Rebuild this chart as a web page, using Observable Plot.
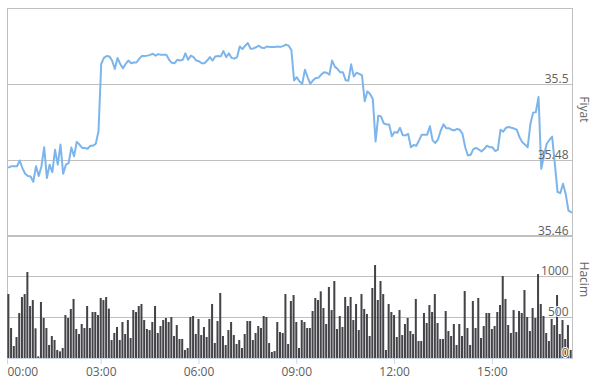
<!DOCTYPE html>
<html><head><meta charset="utf-8">
<script src="https://cdn.jsdelivr.net/npm/d3@7"></script>
<script src="https://cdn.jsdelivr.net/npm/@observablehq/plot@0.6"></script>
<style>
body{margin:0;background:#fff;}
#chart{position:relative;width:592px;height:378px;}
#chart svg{position:absolute;left:0;top:0;}
</style></head><body><div id="chart"></div>
<script>
// time of first point (minutes after 00:00) and step between points
const startMinute = 10;
const stepMinutes = 5;

const price = [
35.4782,35.4785,35.4785,35.4785,35.4800,35.4780,35.4765,35.4759,35.4758,35.4744,
35.4785,35.4759,35.4785,35.4835,35.4754,35.4789,35.4769,35.4828,35.4789,35.4842,
35.4765,35.4789,35.4793,35.4834,35.4811,35.4849,35.4842,35.4833,35.4833,35.4831,
35.4839,35.4839,35.4844,35.4877,35.5054,35.5070,35.5075,35.5074,35.5063,35.5041,
35.5070,35.5054,35.5043,35.5054,35.5063,35.5056,35.5058,35.5058,35.5068,35.5075,
35.5075,35.5076,35.5078,35.5081,35.5076,35.5080,35.5078,35.5078,35.5078,35.5065,
35.5057,35.5056,35.5065,35.5063,35.5065,35.5082,35.5065,35.5076,35.5072,35.5063,
35.5061,35.5056,35.5056,35.5063,35.5072,35.5063,35.5074,35.5075,35.5074,35.5088,
35.5072,35.5082,35.5070,35.5068,35.5072,35.5100,35.5093,35.5102,35.5109,35.5094,
35.5095,35.5098,35.5102,35.5097,35.5096,35.5100,35.5099,35.5099,35.5099,35.5100,
35.5099,35.5101,35.5105,35.5102,35.5091,35.5011,35.5019,35.5008,35.5002,35.5039,
35.5019,35.5002,35.5011,35.5017,35.5018,35.5026,35.5032,35.5031,35.5026,35.5063,
35.5047,35.5041,35.5032,35.5032,35.5011,35.5010,35.5053,35.5021,35.5031,35.5028,
35.5024,35.4956,35.4982,35.4975,35.4961,35.4850,35.4918,35.4916,35.4898,35.4895,
35.4895,35.4864,35.4875,35.4873,35.4886,35.4867,35.4866,35.4870,35.4835,35.4841,
35.4839,35.4853,35.4868,35.4868,35.4868,35.4890,35.4853,35.4846,35.4856,35.4879,
35.4895,35.4885,35.4885,35.4881,35.4879,35.4883,35.4881,35.4870,35.4835,35.4813,
35.4815,35.4830,35.4833,35.4829,35.4824,35.4830,35.4839,35.4835,35.4835,35.4825,
35.4828,35.4881,35.4876,35.4886,35.4888,35.4886,35.4884,35.4881,35.4861,35.4848,
35.4842,35.4835,35.4896,35.4926,35.4927,35.4967,35.4778,35.4813,35.4844,35.4854,
35.4863,35.4791,35.4717,35.4714,35.4739,35.4712,35.4668,35.4664
];

const volume = [
780,366,146,256,549,744,780,1049,634,707,
362,20,683,488,366,159,268,220,98,81,
122,524,488,598,720,354,293,415,366,634,
366,561,561,524,732,707,744,602,220,305,
378,220,439,293,463,244,585,561,634,659,
463,354,341,439,634,305,390,463,488,439,
500,268,402,232,232,98,122,500,512,293,
476,280,378,256,476,659,183,451,793,268,
159,341,439,280,171,220,122,293,451,451,
220,305,390,366,512,500,183,73,85,439,
317,305,780,171,695,768,439,122,463,439,
366,366,573,732,707,813,610,415,866,585,
939,354,512,378,744,634,744,463,659,341,
780,598,537,268,854,1134,707,939,780,98,
659,561,524,256,585,280,415,488,329,293,
720,207,207,549,427,646,561,780,427,232,
232,573,329,268,415,159,415,268,817,366,
159,695,366,732,244,390,549,549,354,390,
561,646,1000,720,402,305,585,317,573,549,
829,500,329,610,488,1024,659,512,305,207,
476,402,768,293,463,232,402,98
];

const priceTicks = [35.46, 35.48, 35.50, 35.52];
const priceTickLabels = ["35.46", "35.48", "35.5", ""];
const volumeTicks = [0, 500, 1000, 1500];
const volumeTickLabels = ["0", "500", "1000", ""];
const timeTickMinutes = [0, 180, 360, 540, 720, 900];
const timeTickLabels = ["00:00", "03:00", "06:00", "09:00", "12:00", "15:00"];

const data = price.map((p, i) => ({t: startMinute + i * stepMinutes, p, v: volume[i]}));
const xDomain = [startMinute - stepMinutes / 2, startMinute + (price.length - 1) * stepMinutes + stepMinutes / 2];
const timeTicks = timeTickMinutes.map((m, i) => ({x: Math.max(m, xDomain[0]), label: timeTickLabels[i]}));
const priceLabelRows = priceTicks.map((y, i) => ({y, label: priceTickLabels[i]})).filter(d => d.label);
const volumeLabelRows = volumeTicks.map((y, i) => ({y, label: volumeTickLabels[i]})).filter(d => d.label);

const grid = "#c0c0c0";
const labelColor = "#606060";
const common = {
  width: 592, height: 378, marginLeft: 7, marginRight: 20,
  style: {background: "transparent", fontFamily: "Open Sans", fontSize: "12px"}
};

const pricePlot = Plot.plot({
  ...common, marginTop: 8, marginBottom: 142,
  x: {domain: xDomain, axis: null},
  y: {domain: [35.46, 35.52], axis: null},
  marks: [
    Plot.ruleY(priceTicks, {stroke: grid}),
    Plot.frame({stroke: grid}),
    Plot.lineY(data, {x: "t", y: "p", stroke: "#7cb5ec", strokeWidth: 2}),
    Plot.text(priceLabelRows, {x: xDomain[1], y: "y", text: "label", textAnchor: "end", lineAnchor: "bottom", dx: -4, dy: -2, fill: labelColor}),
    Plot.text(["Fiyat"], {frameAnchor: "right", dx: 11, rotate: 90, fill: "#666"})
  ]
});

const volumePlot = Plot.plot({
  ...common, marginTop: 235, marginBottom: 20,
  x: {domain: xDomain},
  y: {domain: [0, 1500], axis: null},
  marks: [
    Plot.ruleY(volumeTicks, {stroke: grid}),
    Plot.frame({stroke: grid}),
    Plot.rectY(data, {x1: d => d.t - stepMinutes / 2, x2: d => d.t + stepMinutes / 2, y: "v", fill: "#434348", insetLeft: 0.35, insetRight: 0.35}),
    Plot.ruleY([0], {stroke: "#ccd6eb"}),
    Plot.axisX({ticks: timeTicks.map(d => d.x), tickSize: 6, tickFormat: () => "", stroke: "#ccd6eb", label: null}),
    Plot.text(timeTicks.slice(0, 1), {x: "x", text: "label", frameAnchor: "bottom", textAnchor: "start", lineAnchor: "bottom", dy: 17, fill: labelColor}),
    Plot.text(timeTicks.slice(1), {x: "x", text: "label", frameAnchor: "bottom", lineAnchor: "bottom", dy: 17, fill: labelColor}),
    Plot.text(volumeLabelRows, {x: xDomain[1], y: "y", text: "label", textAnchor: "end", lineAnchor: "bottom", dx: -4, dy: -2, fill: labelColor, stroke: "white", strokeWidth: 2}),
    Plot.text(["Hacim"], {frameAnchor: "right", dx: 11, rotate: 90, fill: "#666"})
  ]
});

const el = document.getElementById("chart");
el.appendChild(volumePlot);
el.appendChild(pricePlot);
</script></body></html>
